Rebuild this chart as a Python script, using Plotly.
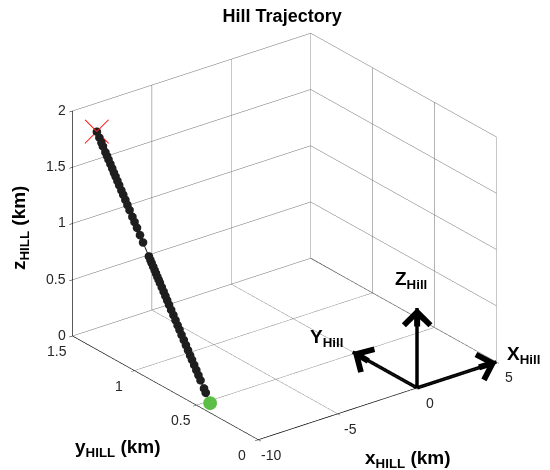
import plotly.graph_objects as go

# ---- data ----
traj_x = [-9.30, -9.30, -9.30, -9.30, -9.30, -9.30, -9.30, -9.30, -9.30, -9.30,
          -9.30, -9.30, -9.30, -9.30, -9.30, -9.30, -9.30, -9.30, -9.30, -9.30,
          -9.30, -9.30, -9.30, -9.30, -9.30, -9.30, -9.30, -9.30, -9.30, -9.30,
          -9.30, -9.30, -9.30, -9.30, -9.30, -9.30, -9.30, -9.30, -9.30, -9.30,
          -9.30, -9.30, -9.30, -9.30, -9.30, -9.30, -9.30, -9.30, -9.30, -9.30,
          -9.30, -9.30, -9.30, -9.30, -9.30, -9.30]
traj_y = [1.394, 1.374, 1.357, 1.345, 1.325, 1.312, 1.300, 1.285, 1.270, 1.256,
          1.243, 1.228, 1.214, 1.196, 1.181, 1.164, 1.147, 1.130, 1.107, 1.090,
          1.070, 1.046, 1.021, 0.974, 0.962, 0.952, 0.939, 0.927, 0.917, 0.905,
          0.895, 0.885, 0.870, 0.855, 0.841, 0.826, 0.811, 0.794, 0.776, 0.759,
          0.742, 0.727, 0.710, 0.692, 0.675, 0.658, 0.641, 0.626, 0.608, 0.591,
          0.574, 0.557, 0.529, 0.515, 0.487, 0.480]
traj_z = [1.850, 1.810, 1.775, 1.750, 1.710, 1.685, 1.660, 1.630, 1.600, 1.570,
          1.545, 1.515, 1.485, 1.450, 1.420, 1.385, 1.350, 1.315, 1.270, 1.235,
          1.195, 1.145, 1.095, 1.000, 0.975, 0.955, 0.930, 0.905, 0.885, 0.860,
          0.840, 0.820, 0.790, 0.760, 0.730, 0.700, 0.670, 0.635, 0.600, 0.565,
          0.530, 0.500, 0.465, 0.430, 0.395, 0.360, 0.325, 0.295, 0.260, 0.225,
          0.190, 0.155, 0.100, 0.070, 0.015, 0.000]

# Hill frame arrows (components from the origin)
arrow_labels = ["X", "Y", "Z"]
arrow_u = [5.0, 0.0, 0.0]
arrow_v = [0.0, 0.52, 0.0]
arrow_w = [0.0, 0.0, 0.71]

x_ticks = [-10, -5, 0, 5]
y_ticks = [0, 0.5, 1, 1.5]
z_ticks = [0, 0.5, 1, 1.5, 2]
x_range = [-10, 5]
y_range = [0, 1.5]
z_range = [0, 2]

FONT = "Liberation Sans"

fig = go.Figure()

# solid floor edge at the far x end
fig.add_trace(go.Scatter3d(
    x=[x_range[1], x_range[1]], y=y_range, z=[z_range[0], z_range[0]], mode="lines",
    line=dict(color="#1a1a1a", width=1.5), showlegend=False, hoverinfo="skip"))

# trajectory
fig.add_trace(go.Scatter3d(
    x=traj_x, y=traj_y, z=traj_z, mode="lines+markers",
    line=dict(color="#1e1e1e", width=2),
    marker=dict(color="#1e1e1e", size=5),
    showlegend=False, hoverinfo="skip"))

# start marker: thin red "x" drawn as two strokes around the first point
hx, hy, hz = 0.47, -0.035, 0.105   # half-size of the cross (style)
sx, sy, sz = traj_x[0], traj_y[0], traj_z[0]
fig.add_trace(go.Scatter3d(
    x=[sx - hx, sx + hx, None, sx - hx, sx + hx],
    y=[sy - hy, sy + hy, None, sy - hy, sy + hy],
    z=[sz - hz, sz + hz, None, sz + hz, sz - hz],
    mode="lines", line=dict(color="#ff1a1a", width=2),
    showlegend=False, hoverinfo="skip"))

# end (green)
fig.add_trace(go.Scatter3d(
    x=traj_x[-1:], y=traj_y[-1:], z=traj_z[-1:], mode="markers",
    marker=dict(color="#5cbf45", size=8),
    showlegend=False, hoverinfo="skip"))

# arrow shafts
for u, v, w in zip(arrow_u, arrow_v, arrow_w):
    fig.add_trace(go.Scatter3d(x=[0, u], y=[0, v], z=[0, w], mode="lines",
                               line=dict(color="black", width=7),
                               showlegend=False, hoverinfo="skip"))

axis_common = dict(
    showbackground=False, gridcolor="#6a6a6a", gridwidth=1,
    showline=True, linecolor="black", linewidth=1.5,
    ticks="outside", tickcolor="black", ticklen=4,
    showticklabels=False,
    zeroline=False, showspikes=False, title=dict(text=""),
    autorange=False,
)

tick_font = dict(family=FONT, size=14, color="#262626")
lab_font = dict(family=FONT, size=19, color="black")
ax_font = dict(family=FONT, size=19, color="black")


def fmt(v):
    return ("%g" % v)


scene_ann = []
# tick labels, anchored at the axis positions
for v in x_ticks:
    scene_ann.append(dict(x=v, y=y_range[0], z=z_range[0], text=fmt(v), showarrow=False,
                          xanchor="center", yanchor="middle", xshift=13, yshift=-15, font=tick_font))
for v in y_ticks:
    scene_ann.append(dict(x=x_range[0], y=v, z=z_range[0], text=fmt(v), showarrow=False,
                          xanchor="center", yanchor="middle", xshift=-16, yshift=-15, font=tick_font))
for v in z_ticks:
    scene_ann.append(dict(x=x_range[0], y=y_range[1], z=v, text=fmt(v), showarrow=False,
                          xanchor="right", yanchor="middle", xshift=-5, yshift=1, font=tick_font))

# arrow heads (open chevrons) and frame labels
head_tail_px = [(-19, 6), (17, 10), (0, 20)]
label_style = [dict(xanchor="left", xshift=9, yshift=7),
               dict(xanchor="right", xshift=-8, yshift=14),
               dict(xanchor="center", xshift=-6, yshift=28)]
for name, u, v, w, (tx, ty), st in zip(arrow_labels, arrow_u, arrow_v, arrow_w, head_tail_px, label_style):
    scene_ann.append(dict(x=u, y=v, z=w, text="", showarrow=True, ax=tx, ay=ty,
                          arrowhead=4, arrowsize=0.85, arrowwidth=6, arrowcolor="black",
                          standoff=0))
    scene_ann.append(dict(x=u, y=v, z=w, text="<b>%s<sub>Hill</sub></b>" % name, showarrow=False,
                          yanchor="middle", font=lab_font, **st))

k = 1.284
fig.update_layout(
    width=550, height=470,
    margin=dict(l=0, r=0, t=0, b=0),
    paper_bgcolor="white",
    title=dict(text="<b>Hill Trajectory</b>", x=0.513, xanchor="center", y=0.966, yanchor="middle",
               font=dict(family=FONT, size=18, color="black")),
    scene=dict(
        domain=dict(x=[0.035, 1.0], y=[0.0, 0.994]),
        xaxis=dict(axis_common, range=x_range, tickvals=x_ticks),
        yaxis=dict(axis_common, range=y_range, tickvals=y_ticks),
        zaxis=dict(axis_common, range=z_range, tickvals=z_ticks),
        aspectmode="manual",
        aspectratio=dict(x=1 * k, y=1.02 * k, z=0.83 * k),
        camera=dict(eye=dict(x=-0.549 * 2, y=-0.718 * 2, z=0.427 * 2),
                    up=dict(x=0, y=0, z=1), center=dict(x=0, y=0, z=0),
                    projection=dict(type="orthographic")),
        annotations=scene_ann,
    ),
    annotations=[
        dict(text="<b>z<sub>HILL</sub> (km)</b>", x=20 / 550, y=1 - 228 / 470, xref="paper", yref="paper",
             xanchor="center", yanchor="middle", showarrow=False, textangle=-90, font=ax_font),
        dict(text="<b>y<sub>HILL</sub> (km)</b>", x=118 / 550, y=1 - 448 / 470, xref="paper", yref="paper",
             xanchor="center", yanchor="middle", showarrow=False, font=ax_font),
        dict(text="<b>x<sub>HILL</sub> (km)</b>", x=408 / 550, y=1 - 459 / 470, xref="paper", yref="paper",
             xanchor="center", yanchor="middle", showarrow=False, font=ax_font),
    ],
)

fig.write_html("out.html")
